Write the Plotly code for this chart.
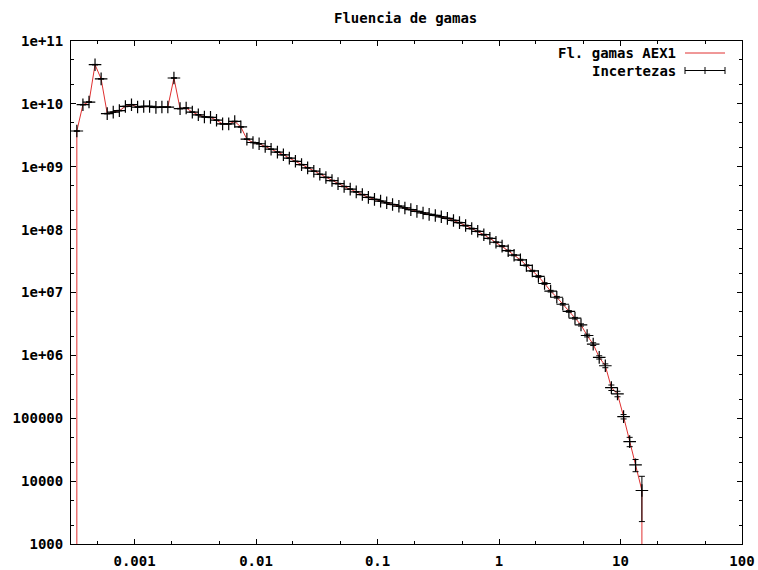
import plotly.graph_objects as go

# Energy grid (MeV) of the points
energies = [
    3.35e-4, 3.76e-4, 4.22e-4, 4.73e-4, 5.31e-4, 5.96e-4, 6.68e-4, 7.50e-4, 8.41e-4, 9.44e-4,
    1.06e-3, 1.19e-3, 1.33e-3, 1.50e-3, 1.68e-3, 1.88e-3, 2.11e-3, 2.37e-3, 2.66e-3, 2.99e-3,
    3.35e-3, 3.76e-3, 4.22e-3, 4.73e-3, 5.31e-3, 5.96e-3, 6.68e-3, 7.50e-3, 8.41e-3, 9.44e-3,
    1.06e-2, 1.19e-2, 1.33e-2, 1.50e-2, 1.68e-2, 1.88e-2, 2.11e-2, 2.37e-2, 2.66e-2, 2.99e-2,
    3.35e-2, 3.76e-2, 4.22e-2, 4.73e-2, 5.31e-2, 5.96e-2, 6.68e-2, 7.50e-2, 8.41e-2, 9.44e-2,
    1.06e-1, 1.19e-1, 1.33e-1, 1.50e-1, 1.68e-1, 1.88e-1, 2.11e-1, 2.37e-1, 2.66e-1, 2.99e-1,
    3.35e-1, 3.76e-1, 4.22e-1, 4.73e-1, 5.31e-1, 5.96e-1, 6.68e-1, 7.50e-1, 8.41e-1, 9.44e-1,
    1.06, 1.19, 1.33, 1.50, 1.68, 1.88, 2.11, 2.37, 2.66, 2.99,
    3.35, 3.76, 4.22, 4.73, 5.31, 5.96, 6.68, 7.50, 8.41, 9.44,
    10.6, 11.9, 13.3, 15.0,
]

fluence = [
    3.7e9, 9.7e9, 1.07e10, 4.2e10, 2.5e10, 7.0e9, 7.4e9, 7.8e9, 9.1e9, 9.7e9,
    8.9e9, 9.1e9, 9.1e9, 8.8e9, 8.9e9, 8.9e9, 2.58e10, 8.4e9, 8.6e9, 7.4e9,
    6.7e9, 6.2e9, 6.1e9, 5.5e9, 4.8e9, 4.8e9, 5.25e9, 4.3e9, 2.75e9, 2.43e9,
    2.32e9, 2.10e9, 1.90e9, 1.71e9, 1.55e9, 1.37e9, 1.22e9, 1.08e9, 9.6e8, 8.5e8,
    7.6e8, 6.76e8, 6.03e8, 5.39e8, 4.85e8, 4.40e8, 3.98e8, 3.61e8, 3.26e8, 3.03e8,
    2.84e8, 2.67e8, 2.51e8, 2.36e8, 2.21e8, 2.08e8, 1.95e8, 1.84e8, 1.75e8, 1.68e8,
    1.60e8, 1.51e8, 1.40e8, 1.29e8, 1.16e8, 1.04e8, 9.4e7, 8.3e7, 7.25e7, 6.3e7,
    5.46e7, 4.62e7, 3.92e7, 3.31e7, 2.70e7, 2.21e7, 1.80e7, 1.39e7, 1.05e7, 8.4e6,
    6.5e6, 5.0e6, 3.9e6, 3.05e6, 2.07e6, 1.51e6, 9.3e5, 6.84e5, 3.07e5, 2.44e5,
    1.06e5, 4.25e4, 1.81e4, 7.1e3,
]

# relative uncertainty of each point
rel_unc = [
    0.01, 0.01, 0.01, 0.01, 0.01, 0.01, 0.01, 0.01, 0.01, 0.01,
    0.01, 0.01, 0.01, 0.01, 0.01, 0.01, 0.01, 0.01, 0.01, 0.01,
    0.01, 0.01, 0.01, 0.01, 0.01, 0.01, 0.01, 0.01, 0.01, 0.01,
    0.01, 0.01, 0.01, 0.01, 0.01, 0.01, 0.01, 0.01, 0.01, 0.01,
    0.01, 0.01, 0.01, 0.01, 0.01, 0.01, 0.01, 0.01, 0.01, 0.01,
    0.01, 0.01, 0.01, 0.01, 0.01, 0.01, 0.01, 0.01, 0.01, 0.01,
    0.01, 0.015, 0.015, 0.015, 0.015, 0.015, 0.015, 0.015, 0.015, 0.015,
    0.02, 0.02, 0.02, 0.02, 0.02, 0.02, 0.03, 0.03, 0.03, 0.03,
    0.03, 0.03, 0.03, 0.04, 0.05, 0.05, 0.06, 0.07, 0.10, 0.10,
    0.08, 0.17, 0.22, 0.68,
]

# end points of the line (zero flux at both ends, drawn down to the axis)
line_start_x, line_start_y = [3.35e-4], [1e-3]
line_end_x, line_end_y = [15.0], [1e-3]

x_tickvals = [0.001, 0.01, 0.1, 1, 10, 100]
x_ticktext = ["0.001", "0.01", "0.1", "1", "10", "100"]
y_tickvals = [1e3, 1e4, 1e5, 1e6, 1e7, 1e8, 1e9, 1e10, 1e11]
y_ticktext = ["1000", "10000", "100000", "1e+06", "1e+07", "1e+08", "1e+09", "1e+10", "1e+11"]

title_text = "Fluencia de gamas"
legend_names = ["Fl. gamas AEX1", "Incertezas"]

FONT = dict(family="DejaVu Sans Mono", size=14, color="black", weight="bold")
RED = "#e03030"

errors = [v * r for v, r in zip(fluence, rel_unc)]

fig = go.Figure()
fig.add_trace(go.Scatter(
    x=line_start_x + energies + line_end_x,
    y=line_start_y + fluence + line_end_y,
    mode="lines", line=dict(color=RED, width=1),
    name=legend_names[0], showlegend=False, cliponaxis=True,
))
fig.add_trace(go.Scatter(
    x=energies, y=fluence, mode="markers",
    marker=dict(symbol="cross-thin", size=9, line=dict(color="black", width=1.2), color="black"),
    error_y=dict(type="data", array=errors, visible=True, color="black", thickness=1, width=3),
    name=legend_names[1], showlegend=False,
))

W, H = 758, 570
L, R, T, B = 71, 16, 41, 26
pw, ph = W - L - R, H - T - B


def px(xp):
    return (xp - L) / pw


def py(yp):
    return (H - B - yp) / ph


# manual gnuplot-style key
annotations = [
    dict(text=title_text, x=px(405), y=py(18), xref="paper", yref="paper",
         showarrow=False, font=FONT, xanchor="center", yanchor="middle"),
    dict(text=legend_names[0], x=px(678), y=py(53), xref="paper", yref="paper",
         showarrow=False, font=FONT, xanchor="right", yanchor="middle"),
    dict(text=legend_names[1], x=px(678), y=py(70.5), xref="paper", yref="paper",
         showarrow=False, font=FONT, xanchor="right", yanchor="middle"),
]
shapes = [
    dict(type="line", xref="paper", yref="paper", x0=px(685), x1=px(725), y0=py(53), y1=py(53),
         line=dict(color=RED, width=1)),
    dict(type="line", xref="paper", yref="paper", x0=px(685), x1=px(725), y0=py(70.5), y1=py(70.5),
         line=dict(color="black", width=1)),
    dict(type="line", xref="paper", yref="paper", x0=px(685), x1=px(685), y0=py(67), y1=py(74),
         line=dict(color="black", width=1)),
    dict(type="line", xref="paper", yref="paper", x0=px(725), x1=px(725), y0=py(67), y1=py(74),
         line=dict(color="black", width=1)),
    dict(type="line", xref="paper", yref="paper", x0=px(705), x1=px(705), y0=py(67), y1=py(74),
         line=dict(color="black", width=1)),
]

axis_common = dict(
    type="log", showline=True, linecolor="black", linewidth=1, mirror="ticks",
    ticks="inside", ticklen=5, tickcolor="black", tickwidth=1,
    showgrid=False, zeroline=False, tickfont=FONT,
    minor=dict(ticks="inside", ticklen=3, tickcolor="black", tickwidth=1, dtick="D2", showgrid=False),
)

fig.update_layout(
    width=W, height=H,
    margin=dict(l=L, r=R, t=T, b=B, autoexpand=False),
    paper_bgcolor="white", plot_bgcolor="white",
    showlegend=False,
    xaxis=dict(axis_common, range=[-3.5229, 2], tickvals=x_tickvals, ticktext=x_ticktext,
               ticklabelstandoff=4),
    yaxis=dict(axis_common, range=[3, 11], tickvals=y_tickvals, ticktext=y_ticktext,
               ticklabelstandoff=4),
    annotations=annotations, shapes=shapes,
)

fig.write_html(
    "out.html",
    config={"displayModeBar": False},
    post_script="document.body.style.margin='0';document.body.style.overflow='hidden';",
)
